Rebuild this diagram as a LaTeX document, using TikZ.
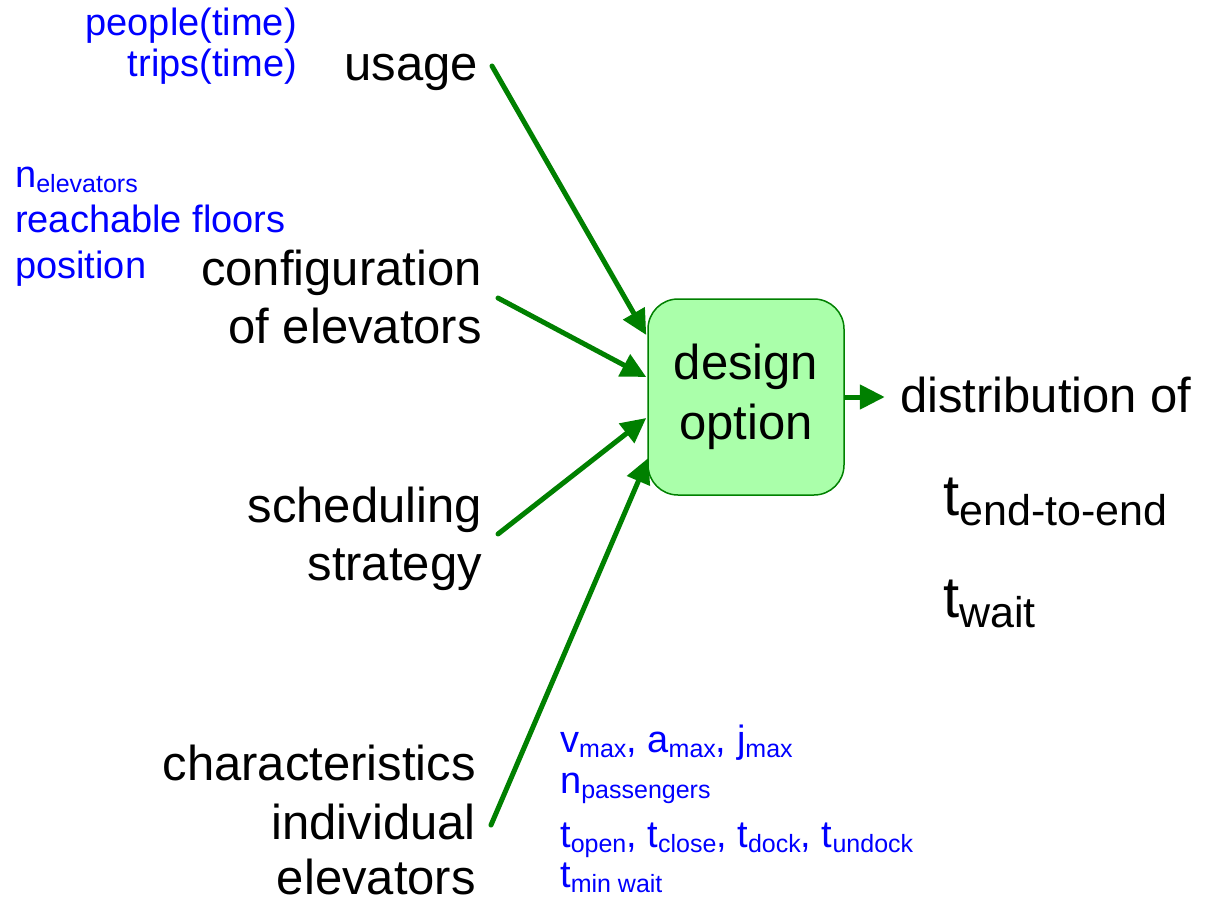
\documentclass[tikz,border=0pt]{standalone}
\usepackage{fontspec}
\setmainfont{Liberation Sans}
\usetikzlibrary{arrows.meta,calc}
\definecolor{arrgreen}{RGB}{0,128,0}
\definecolor{boxfill}{RGB}{170,255,170}
\definecolor{txtblue}{RGB}{0,0,255}
\newcommand\bsub[1]{\raisebox{-5pt}{\fontsize{25}{25}\selectfont #1}}
\newcommand\tsub[1]{\raisebox{-10pt}{\fontsize{43}{43}\selectfont #1}}
\begin{document}
\begin{tikzpicture}[x=1pt,y=-1pt,
  lbl/.style={inner sep=0pt, font=\fontsize{49}{58}\selectfont},
  tlbl/.style={inner sep=0pt, font=\fontsize{58}{60}\selectfont},
  blu/.style={inner sep=0pt, text=txtblue, font=\fontsize{38}{41}\selectfont},
  arr/.style={draw=arrgreen, line width=5pt, line cap=round,
    -{Triangle[length=25pt,width=24pt]}},
  boxstyle/.style={draw=arrgreen, fill=boxfill, line width=1.5pt,
    rounded corners=30pt, minimum width=196pt, minimum height=196pt,
    inner sep=0pt, align=center, font=\fontsize{49}{60}\selectfont}]
\useasboundingbox (0,0) rectangle (1218,900);

% central box
\node[boxstyle] (box) at (746,397) {design\\option};

% left black labels
\node[lbl, anchor=base east] (usage) at (478,80) {usage};
\node[lbl, anchor=base east] (conf1) at (482,285) {configuration};
\node[lbl, anchor=base east] (conf2) at (482,343) {of elevators};
\node[lbl, anchor=base east] (sched1) at (482,522) {scheduling};
\node[lbl, anchor=base east] (sched2) at (482,580) {strategy};
\node[lbl, anchor=base east] (char1) at (476,780) {characteristics};
\node[lbl, anchor=base east] (char2) at (476,839) {individual};
\node[lbl, anchor=base east] (char3) at (476,894) {elevators};

% blue annotations
\node[blu, anchor=base east] (pt) at (297,35) {people(time)};
\node[blu, anchor=base east] (tt) at (297,76) {trips(time)};
\node[blu, anchor=base west] (ne) at (15,187) {n\bsub{elevators}};
\node[blu, anchor=base west] (rf) at (15,232) {reachable floors};
\node[blu, anchor=base west] (po) at (15,278) {position};

\node[blu, anchor=base west] (vaj) at (560,752) {v\bsub{max}, a\bsub{max}, j\bsub{max}};
\node[blu, anchor=base west] (np) at (560,793) {n\bsub{passengers}};
\node[blu, anchor=base west] (tt1) at (560,847) {t\bsub{open}, t\bsub{close}, t\bsub{dock}, t\bsub{undock}};
\node[blu, anchor=base west] (tmw) at (560,887) {t\bsub{min wait}};

% outputs
\node[lbl, anchor=base west] (dist) at (900,412) {distribution of};
\node[tlbl, anchor=base west] (tend) at (943,515) {t\tsub{end-to-end}};
\node[tlbl, anchor=base west] (twait) at (943,617) {t\tsub{wait}};

% connector endpoints
\coordinate (uS) at (492,66);
\coordinate (cS) at (498,298);
\coordinate (sS) at (498,534);
\coordinate (chS) at (491,825);
\coordinate (uE) at ($(box.west)+(-1,-62)$);
\coordinate (cE) at ($(box.west)+(-1,-20)$);
\coordinate (sE) at ($(box.west)+(-1,21)$);
\coordinate (chE) at ($(box.west)+(1,61)$);
\coordinate (oE) at ($(box.east)+(40,0)$);

\draw[arr] (uS) -- (uE);
\draw[arr] (cS) -- (cE);
\draw[arr] (sS) -- (sE);
\draw[arr] (chS) -- (chE);
\draw[arr, line cap=butt] (box.east) -- (oE);
\end{tikzpicture}
\end{document}
